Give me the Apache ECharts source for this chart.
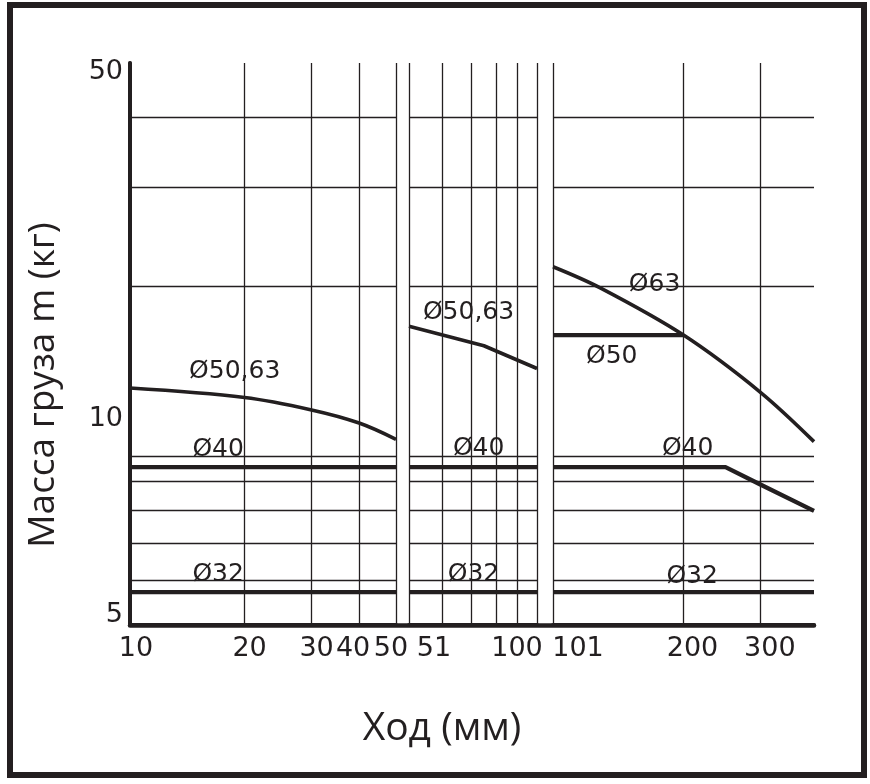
<!DOCTYPE html>
<html><head><meta charset="utf-8">
<script src="https://cdn.jsdelivr.net/npm/echarts@6/dist/echarts.min.js"></script>
<style>html,body{margin:0;padding:0;background:#fff}#c{width:870px;height:784px}</style>
</head><body><div id="c"></div>
<script>
// ---------- data ----------
// Y axis (mass, kg), logarithmic
const yMin = 5, yMax = 50;
const yGridValues = [6, 7, 8, 9, 10, 20, 30, 40];
const yTickValues = [5, 10, 50];
const yTickLabels = ['5', '10', '50'];

// X axes (stroke, mm), three logarithmic panels
const p1Range = [10, 50];
const p2Range = [50, 100];
const p3Range = [100, 400];
const p1GridValues = [20, 30, 40, 50];
const p2GridValues = [50, 60, 70, 80, 90, 100];
const p3GridValues = [100, 200, 300];
const p1TickValues = [10, 20, 30, 40, 50];
const p1TickLabels = ['10', '20', '30', '40', '50'];
const p2TickValues = [50, 100];
const p2TickLabels = ['51', '100'];
const p3TickValues = [100, 200, 300];
const p3TickLabels = ['101', '200', '300'];

// series values [stroke mm, mass kg]
const p1_d50_63 = [[10, 13.2], [20, 12.7], [30, 12.07], [40, 11.44], [50, 10.7]];
const p1_d40 = [[10, 9.55], [50, 9.55]];
const p1_d32 = [[10, 5.72], [50, 5.72]];
const p2_d50_63 = [[50, 17.0], [75, 15.7], [100, 14.3]];
const p2_d40 = [[50, 9.55], [100, 9.55]];
const p2_d32 = [[50, 5.72], [100, 5.72]];
const p3_d63 = [[100, 21.7], [128.5, 19.9], [200, 16.4], [300, 13.0], [400, 10.6]];
const p3_d50 = [[100, 16.4], [200, 16.4]];
const p3_d40 = [[100, 9.55], [250, 9.55], [300, 8.9], [400, 7.98]];
const p3_d32 = [[100, 5.72], [400, 5.72]];

// curve annotations (panel, text, anchor in data units)
const annotations = [
  [0, 'Ø50,63', [18.9, 14.1]],
  [0, 'Ø40', [17.1, 10.24]],
  [0, 'Ø32', [17.1, 6.13]],
  [1, 'Ø50,63', [69.2, 17.95]],
  [1, 'Ø40', [73.1, 10.28]],
  [1, 'Ø32', [71.1, 6.13]],
  [2, 'Ø63', [172, 20.1]],
  [2, 'Ø50', [137, 15.0]],
  [2, 'Ø40', [205, 10.28]],
  [2, 'Ø32', [210, 6.08]]
];

// ---------- styles ----------
const INK = '#231f20';
const TICK_FONT = 'DejaVu Sans';
// horizontal label shifts in px (style only)
const p1Shift = [6, 5, 5, -6, -5];
const p2Shift = [25, -20];
const p3Shift = [25, 9, 10];
// vertical label shifts for y labels (negative = up)
const yShift = [-10, -37, 9];

function nearestIndex(vals, v) {
  let best = 0, bd = Infinity;
  vals.forEach((x, i) => { const d = Math.abs(Math.log(x) - Math.log(v)); if (d < bd) { bd = d; best = i; } });
  return best;
}
function xRich(shifts) {
  const r = {};
  shifts.forEach((s, i) => {
    r['s' + i] = {
      fontFamily: TICK_FONT, fontSize: 27, color: INK,
      padding: s >= 0 ? [0, 0, 0, 2 * s] : [0, -2 * s, 0, 0]
    };
  });
  return r;
}
function yRich(shifts) {
  const r = {};
  shifts.forEach((s, i) => {
    r['s' + i] = {
      fontFamily: TICK_FONT, fontSize: 27, color: INK,
      padding: s <= 0 ? [0, 0, -2 * s, 0] : [2 * s, 0, 0, 0]
    };
  });
  return r;
}

const GRID_TOP = 63, GRID_H = 562;
const grids = [
  { left: 130, top: GRID_TOP, width: 266, height: GRID_H },
  { left: 409, top: GRID_TOP, width: 128, height: GRID_H },
  { left: 553, top: GRID_TOP, width: 261, height: GRID_H },
  { left: 130, top: GRID_TOP, width: 684, height: GRID_H }
];

function xAxis(idx, range, gridVals, tickVals, tickLabels, shifts) {
  return {
    type: 'log', logBase: 10, gridIndex: idx, min: range[0], max: range[1],
    position: 'bottom',
    axisLine: { show: true, onZero: false, lineStyle: { color: INK, width: 4, cap: 'round' } },
    axisTick: { show: false, customValues: gridVals },
    splitLine: { show: true, lineStyle: { color: INK, width: 1.3 } },
    minorTick: { show: false }, minorSplitLine: { show: false },
    axisLabel: {
      show: true, customValues: tickVals, margin: 10,
      fontFamily: TICK_FONT, fontSize: 27, color: INK,
      formatter: v => { const i = nearestIndex(tickVals, v); return '{s' + i + '|' + tickLabels[i] + '}'; },
      rich: xRich(shifts)
    }
  };
}
function yAxis(idx, withLine) {
  return {
    type: 'log', logBase: 10, gridIndex: idx, min: yMin, max: yMax,
    axisLine: { show: withLine, lineStyle: { color: INK, width: 3.5 } },
    axisTick: { show: false, customValues: yGridValues },
    splitLine: { show: true, lineStyle: { color: INK, width: 1.3 } },
    minorTick: { show: false }, minorSplitLine: { show: false },
    axisLabel: withLine ? {
      show: true, customValues: yTickValues, margin: 7, align: 'right',
      fontFamily: TICK_FONT, fontSize: 27, color: INK,
      formatter: v => { const i = nearestIndex(yTickValues, v); return '{s' + i + '|' + yTickLabels[i] + '}'; },
      rich: yRich(yShift)
    } : { show: false }
  };
}

function lineSeries(grid, data, width, smooth) {
  return {
    type: 'line', xAxisIndex: grid, yAxisIndex: grid, data: data,
    showSymbol: false, symbol: 'none', smooth: smooth ? 0.35 : false,
    lineStyle: { color: INK, width: width, cap: 'butt', join: 'round' },
    z: 5, silent: true
  };
}

const series = [
  lineSeries(0, p1_d50_63, 3.6, true),
  lineSeries(0, p1_d40, 4.3, false),
  lineSeries(0, p1_d32, 4.3, false),
  lineSeries(1, p2_d50_63, 3.6, false),
  lineSeries(1, p2_d40, 4.3, false),
  lineSeries(1, p2_d32, 4.3, false),
  lineSeries(2, p3_d63, 3.6, true),
  lineSeries(2, p3_d50, 4.3, false),
  lineSeries(2, p3_d40, 4.3, false),
  lineSeries(2, p3_d32, 4.3, false)
];
[0, 1, 2].forEach(g => {
  series.push({
    type: 'scatter', xAxisIndex: g, yAxisIndex: g, symbolSize: 1, silent: true, z: 6,
    itemStyle: { opacity: 0 },
    data: annotations.filter(a => a[0] === g).map(a => ({ value: a[2], name: a[1] })),
    label: { show: true, position: [0, 0], align: 'center', verticalAlign: 'middle',
      formatter: p => p.name, textBorderWidth: 0, opacity: 1,
      fontFamily: TICK_FONT, fontSize: 25, color: INK }
  });
});

const option = {
  animation: false,
  backgroundColor: '#fff',
  grid: grids,
  xAxis: [
    xAxis(0, p1Range, p1GridValues, p1TickValues, p1TickLabels, p1Shift),
    xAxis(1, p2Range, p2GridValues, p2TickValues, p2TickLabels, p2Shift),
    xAxis(2, p3Range, p3GridValues, p3TickValues, p3TickLabels, p3Shift),
    { type: 'value', gridIndex: 3, min: 0, max: 1, position: 'top',
      axisLine: { show: true, lineStyle: { color: INK, width: 4.5 } },
      axisTick: { show: false }, axisLabel: { show: false }, splitLine: { show: false } }
  ],
  yAxis: [
    yAxis(0, true), yAxis(1, false), yAxis(2, false),
    { type: 'value', gridIndex: 3, min: 0, max: 1, position: 'right',
      axisLine: { show: true, lineStyle: { color: INK, width: 4 } },
      axisTick: { show: false }, axisLabel: { show: false }, splitLine: { show: false } }
  ],
  series: series,
  graphic: [
    { type: 'rect', shape: { x: 10, y: 5, width: 854, height: 770 },
      style: { fill: 'none', stroke: INK, lineWidth: 6 }, silent: true },
    { type: 'text', x: 43, y: 385, rotation: Math.PI / 2,
      style: { text: 'Масса груза m (кг)', font: '37px "Open Sans"', fill: INK,
        textAlign: 'center', textVerticalAlign: 'middle' } },
    { type: 'text', x: 442, y: 729,
      style: { text: 'Ход (мм)', font: '39px "Open Sans"', fill: INK,
        textAlign: 'center', textVerticalAlign: 'middle' } }
  ]
};
const chart = echarts.init(document.getElementById('c'), null, { renderer: 'canvas' });
chart.setOption(option);
</script></body></html>
